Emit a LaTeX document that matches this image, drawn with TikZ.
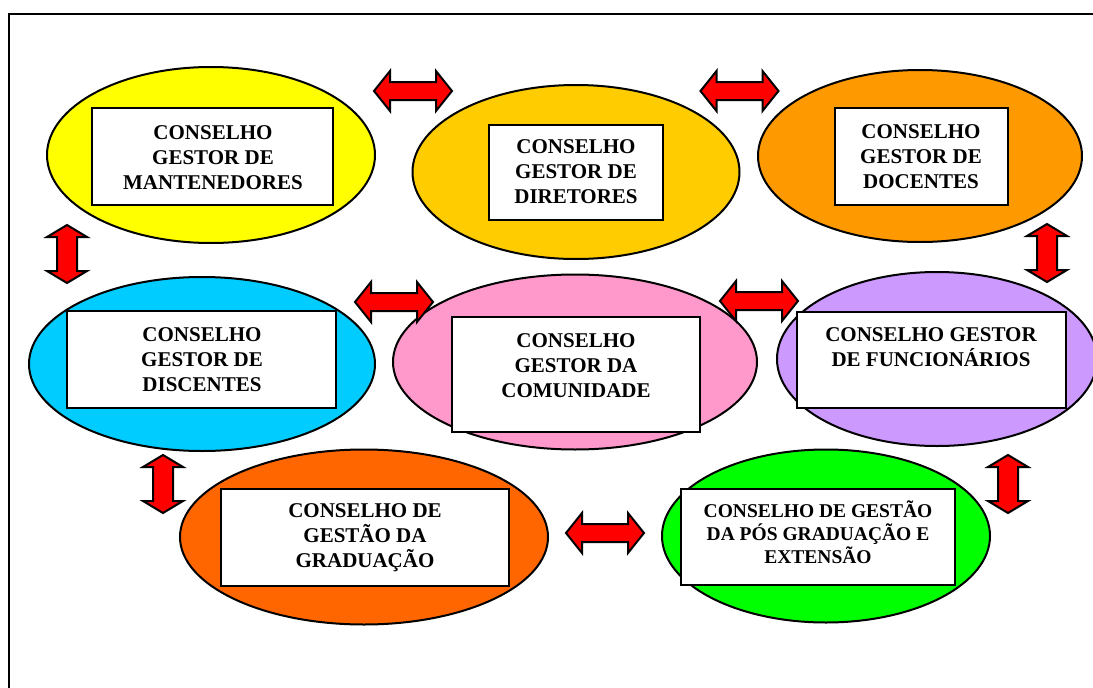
\documentclass[tikz,border=0pt]{standalone}
\usepackage{fontspec}
\setmainfont{Liberation Serif}
\usetikzlibrary{shapes.geometric}
\definecolor{cyel}{HTML}{FFFF00}
\definecolor{cgold}{HTML}{FFCC00}
\definecolor{corange}{HTML}{FF9900}
\definecolor{ccyan}{HTML}{00CCFF}
\definecolor{cpink}{HTML}{FF99CC}
\definecolor{clav}{HTML}{CC99FF}
\definecolor{cored}{HTML}{FF6600}
\definecolor{cgreen}{HTML}{00FF00}
\tikzset{
  oval/.style={ellipse, draw=black, line width=2pt, inner sep=0pt},
  box/.style={rectangle, draw=black, line width=2pt, fill=white, inner sep=0pt},
  lbl/.style={align=center, inner sep=0pt, font=\bfseries\fontsize{21}{25}\selectfont},
  lblsmall/.style={align=center, inner sep=0pt, font=\bfseries\fontsize{19.5}{23}\selectfont},
  blockarrow/.style={draw=black, fill=red, line width=2pt, line join=miter},
  frame/.style={draw=black, line width=1.5pt}
}
\newcommand{\harrow}[2]{%
  \draw[blockarrow] (#1-39,#2) -- (#1-23,#2-20) -- (#1-23,#2-9) -- (#1+23,#2-9) -- (#1+23,#2-20)
   -- (#1+39,#2) -- (#1+23,#2+20) -- (#1+23,#2+9) -- (#1-23,#2+9) -- (#1-23,#2+20) -- cycle;}
\newcommand{\varrow}[2]{%
  \draw[blockarrow] (#1,#2-29) -- (#1+20,#2-17) -- (#1+10,#2-17) -- (#1+10,#2+17) -- (#1+20,#2+17)
   -- (#1,#2+29) -- (#1-20,#2+17) -- (#1-10,#2+17) -- (#1-10,#2-17) -- (#1-20,#2-17) -- cycle;}
\begin{document}
\begin{tikzpicture}[x=1pt, y=-1pt]
\useasboundingbox (0,0) rectangle (1093,688);
\clip (0,0) rectangle (1093,688);
\fill[white] (0,0) rectangle (1093,688);
\draw[frame] (9,14) rectangle (1120,720);

% ellipses
\node[oval, fill=cyel,   minimum width=328pt, minimum height=176pt] (e1) at (211,155) {};
\node[oval, fill=cgold,  minimum width=327pt, minimum height=174pt] (e2) at (576,172) {};
\node[oval, fill=corange,minimum width=324pt, minimum height=172pt] (e3) at (920,156) {};
\node[oval, fill=ccyan,  minimum width=346pt, minimum height=174pt] (e4) at (202,364) {};
\node[oval, fill=cpink,  minimum width=364pt, minimum height=175pt] (e5) at (575,362) {};
\node[oval, fill=clav,   minimum width=320pt, minimum height=174pt] (e6) at (937,359) {};
\node[oval, fill=cored,  minimum width=368pt, minimum height=175pt] (e7) at (364,537) {};
\node[oval, fill=cgreen, minimum width=328pt, minimum height=173pt] (e8) at (826,536) {};

% boxes
\node[box, minimum width=241pt, minimum height=97pt]  (b1) at (212.5,156.5) {};
\node[box, minimum width=174pt, minimum height=95pt]  (b2) at (576,172.5) {};
\node[box, minimum width=173pt, minimum height=97pt]  (b3) at (921.5,156.5) {};
\node[box, minimum width=269pt, minimum height=97pt]  (b4) at (201.5,359.5) {};
\node[box, minimum width=248pt, minimum height=115pt] (b5) at (576,374.5) {};
\node[box, minimum width=269pt, minimum height=96pt]  (b6) at (931.5,359.5) {};
\node[box, minimum width=288pt, minimum height=97pt]  (b7) at (365,537.5) {};
\node[box, minimum width=274pt, minimum height=96pt]  (b8) at (818,537) {};

% labels
\node[lbl] (t1) at (213,158) {CONSELHO\\GESTOR DE\\MANTENEDORES};
\node[lbl] (t2) at (576,172) {CONSELHO\\GESTOR DE\\DIRETORES};
\node[lbl] (t3) at (921,157) {CONSELHO\\GESTOR DE\\DOCENTES};
\node[lbl] (t4) at (202,360) {CONSELHO\\GESTOR DE\\DISCENTES};
\node[lbl] (t5) at (576,366) {CONSELHO\\GESTOR DA\\COMUNIDADE};
\node[lbl] (t6) at (931,347) {CONSELHO GESTOR\\DE FUNCIONÁRIOS};
\node[lbl] (t7) at (365,538) {CONSELHO DE\\GESTÃO DA\\GRADUAÇÃO};
\node[lblsmall] (t8) at (818,532) {CONSELHO DE GESTÃO\\DA PÓS GRADUAÇÃO E\\EXTENSÃO};

% double block arrows
\harrow{413}{91}
\harrow{739.5}{91}
\harrow{394}{302}
\harrow{759}{301}
\harrow{605}{533}
\varrow{67}{254}
\varrow{1047}{253}
\varrow{163}{484}
\varrow{1008}{484}
\end{tikzpicture}
\end{document}
